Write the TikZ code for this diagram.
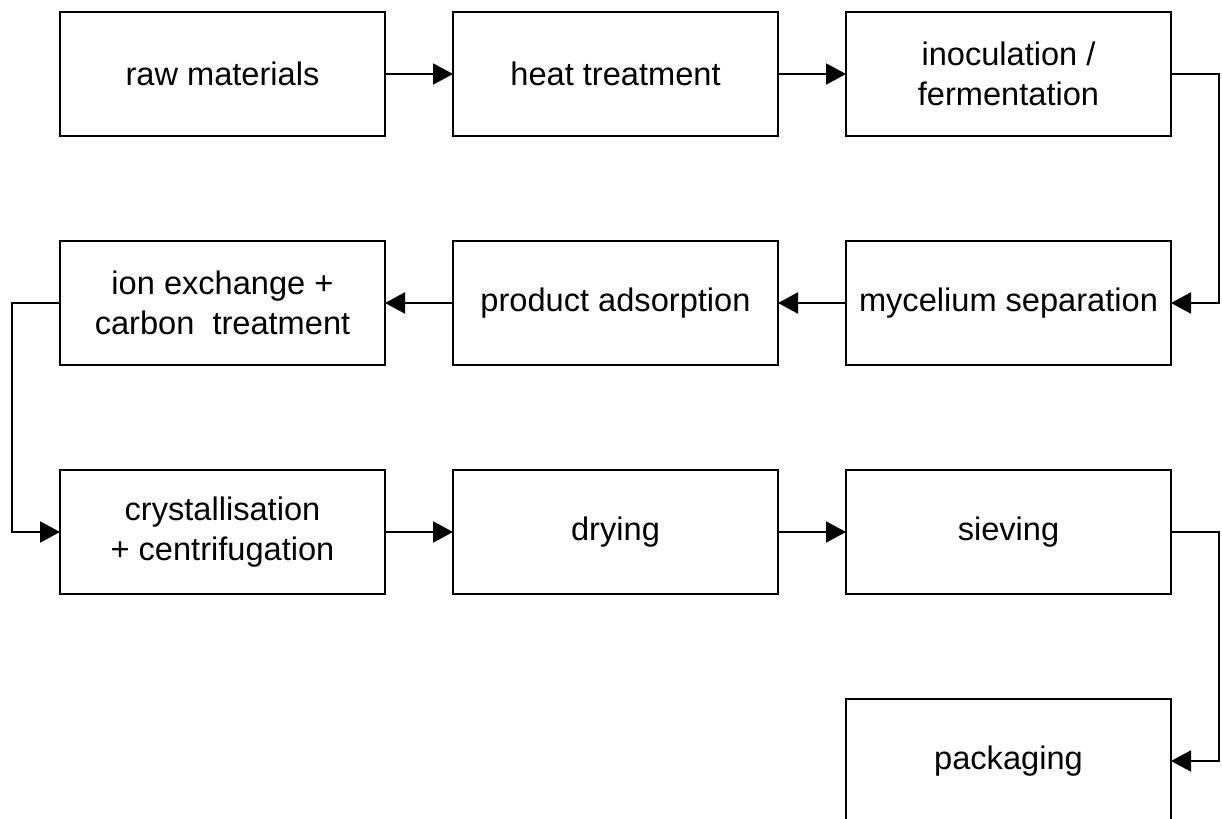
\documentclass[tikz,border=0pt]{standalone}
\usepackage{fontspec}
\setmainfont{Liberation Sans}
\usepackage{tikz}
\usetikzlibrary{arrows.meta, positioning}
\tikzset{
  stage/.style={draw, line width=1.1pt, align=center, minimum height=62pt, minimum width=162.5pt, inner sep=2pt, outer sep=0pt, fill=white},
  arrow/.style={-{Triangle[length=10pt, width=10.5pt]}, line width=1pt},
  every node/.style={font=\fontsize{16.3}{20}\selectfont}
}

\begin{document}
\begin{tikzpicture}[node distance=52.5pt and 34pt]
    \useasboundingbox (0,0) rectangle (611pt,-409.5pt);
    \node[stage] (raw) at (111.25pt,-37pt) {raw materials};
    \node[stage, right=of raw] (heat) {heat treatment};
    \node[stage, right=of heat] (inoc) {inoculation /\\fermentation};
    \node[stage, below=of inoc] (myc) {mycelium separation};
    \node[stage, left=of myc] (adsorb) {product adsorption};
    \node[stage, left=of adsorb] (ionex) {ion exchange +\\carbon\ \ treatment};
    \node[stage, below=of ionex] (cryst) {crystallisation\\+ centrifugation};
    \node[stage, right=of cryst] (dry) {drying};
    \node[stage, right=of dry] (sieve) {sieving};
    \node[stage, below=of sieve] (pack) {packaging};

    \draw[arrow] (raw) -- (heat);
    \draw[arrow] (heat) -- (inoc);
    \draw[arrow] (inoc.east) -- ++(24pt,0) |- (myc.east);
    \draw[arrow] (myc) -- (adsorb);
    \draw[arrow] (adsorb) -- (ionex);
    \draw[arrow] (ionex.west) -- ++(-24pt,0) |- (cryst.west);
    \draw[arrow] (cryst) -- (dry);
    \draw[arrow] (dry) -- (sieve);
    \draw[arrow] (sieve.east) -- ++(24pt,0) |- (pack.east);
\end{tikzpicture}
\end{document}
